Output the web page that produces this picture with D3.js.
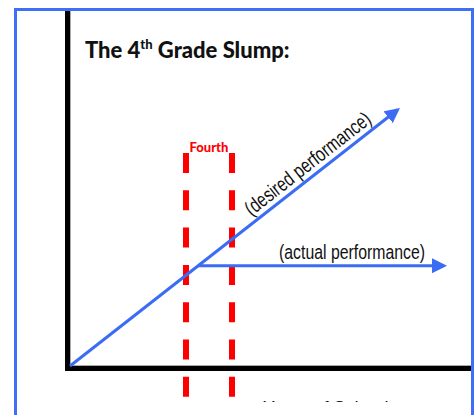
<!DOCTYPE html>
<html>
<head>
<meta charset="utf-8">
<script src="https://cdn.jsdelivr.net/npm/d3@7"></script>
<style>
  body { margin: 0; background: #fff; }
  svg { display: block; }
  .label { font-family: 'Liberation Sans Narrow', 'Liberation Sans', Arial, sans-serif; fill: #111; }
  .title { font-family: Lato, 'Noto Sans', sans-serif; font-weight: 900; fill: #111; }
</style>
</head>
<body>
<svg id="chart"></svg>
<script>
// values on a 0-100 "years of school" x scale and 0-100 "performance" y scale
const fourthGrade = [29, 40.5];
const desiredPerformance = [[0, 0], [81.9, 85.4]];
const actualPerformance = [[32, 33.4], [93.5, 33.4]];
const labels = { band: 'Fourth', desired: '(desired performance)', actual: '(actual performance)', xAxis: 'Years of School' };

const width = 475, height = 415;
const blue = '#3a6cf4';

const svg = d3.select('#chart').attr('width', width).attr('height', height);

const x = d3.scaleLinear().domain([0, 100]).range([70, 470]);
const y = d3.scaleLinear().domain([0, 100]).range([366, 66]);

// slide frame
svg.append('rect')
  .attr('x', 15.5).attr('y', 9.5)
  .attr('width', 457).attr('height', 430)
  .attr('fill', 'none').attr('stroke', '#3f6ff6').attr('stroke-width', 3);

svg.append('defs').append('clipPath').attr('id', 'slide')
  .append('rect').attr('x', 17).attr('y', 11).attr('width', 454).attr('height', 391);

const g = svg.append('g').attr('clip-path', 'url(#slide)');

// arrow head
svg.select('defs').append('marker')
  .attr('id', 'arrow')
  .attr('markerUnits', 'userSpaceOnUse')
  .attr('viewBox', '0 -8 16 16')
  .attr('markerWidth', 16).attr('markerHeight', 16)
  .attr('refX', 12).attr('refY', 0)
  .attr('orient', 'auto')
  .append('path').attr('d', 'M0,-7.5L15,0L0,7.5Z').attr('fill', blue);

// title
const title = g.append('text').attr('class', 'title')
  .attr('x', 85).attr('y', 58).attr('font-size', 22);
title.append('tspan').text('The 4');
title.append('tspan').attr('font-size', 13).attr('dy', -9).text('th');
title.append('tspan').attr('dy', 9).text(' Grade Slump:');

// fourth grade band
fourthGrade.forEach(v => {
  g.append('line')
    .attr('x1', x(v)).attr('x2', x(v))
    .attr('y1', 153).attr('y2', 420)
    .attr('stroke', '#ff0000').attr('stroke-width', 6)
    .attr('stroke-dasharray', '20 17.3');
});
g.append('text')
  .attr('x', x(d3.mean(fourthGrade))).attr('y', 152)
  .attr('text-anchor', 'middle')
  .attr('font-family', 'Lato, sans-serif').attr('font-weight', 900)
  .attr('font-size', 13).attr('fill', '#ff0000')
  .text(labels.band);

// axes: thick black lines with a grey shadow, no ticks
g.append('line')
  .attr('x1', x.range()[0] + 0.5).attr('x2', x.range()[0] + 0.5)
  .attr('y1', 11).attr('y2', y(0))
  .attr('stroke', '#aaa').attr('stroke-width', 1);
g.append('line')
  .attr('x1', x.range()[0]).attr('x2', 471)
  .attr('y1', y(0) - 0.5).attr('y2', y(0) - 0.5)
  .attr('stroke', '#aaa').attr('stroke-width', 1);
g.append('line')
  .attr('x1', x.range()[0] - 2.5).attr('x2', x.range()[0] - 2.5)
  .attr('y1', 11).attr('y2', y(0) + 5)
  .attr('stroke', '#000').attr('stroke-width', 5);
g.append('line')
  .attr('x1', x.range()[0] - 5).attr('x2', 471)
  .attr('y1', y(0) + 2.5).attr('y2', y(0) + 2.5)
  .attr('stroke', '#000').attr('stroke-width', 5);

// performance lines
const line = d3.line().x(d => x(d[0])).y(d => y(d[1]));
[desiredPerformance, actualPerformance].forEach(series => {
  g.append('path')
    .attr('d', line(series))
    .attr('fill', 'none').attr('stroke', blue).attr('stroke-width', 3)
    .attr('marker-end', 'url(#arrow)');
});

// line labels (condensed, like the narrow face of the original)
const [d0, d1] = desiredPerformance;
const angle = Math.atan2(y(d1[1]) - y(d0[1]), x(d1[0]) - x(d0[0])) * 180 / Math.PI;
const t = 0.75;
const lx = x(d0[0] + (d1[0] - d0[0]) * t), ly = y(d0[1] + (d1[1] - d0[1]) * t);
g.append('text').attr('class', 'label')
  .attr('transform', `translate(${lx},${ly}) rotate(${angle})`)
  .attr('dy', -6).attr('text-anchor', 'middle').attr('font-size', 20.5)
  .attr('textLength', 154).attr('lengthAdjust', 'spacingAndGlyphs')
  .text(labels.desired);

g.append('text').attr('class', 'label')
  .attr('x', 352).attr('y', y(actualPerformance[0][1]) - 7)
  .attr('text-anchor', 'middle').attr('font-size', 20.5)
  .attr('textLength', 146).attr('lengthAdjust', 'spacingAndGlyphs')
  .text(labels.actual);

g.append('text').attr('class', 'label')
  .attr('x', 263).attr('y', 414).attr('font-size', 18)
  .text(labels.xAxis);
</script>
</body>
</html>
